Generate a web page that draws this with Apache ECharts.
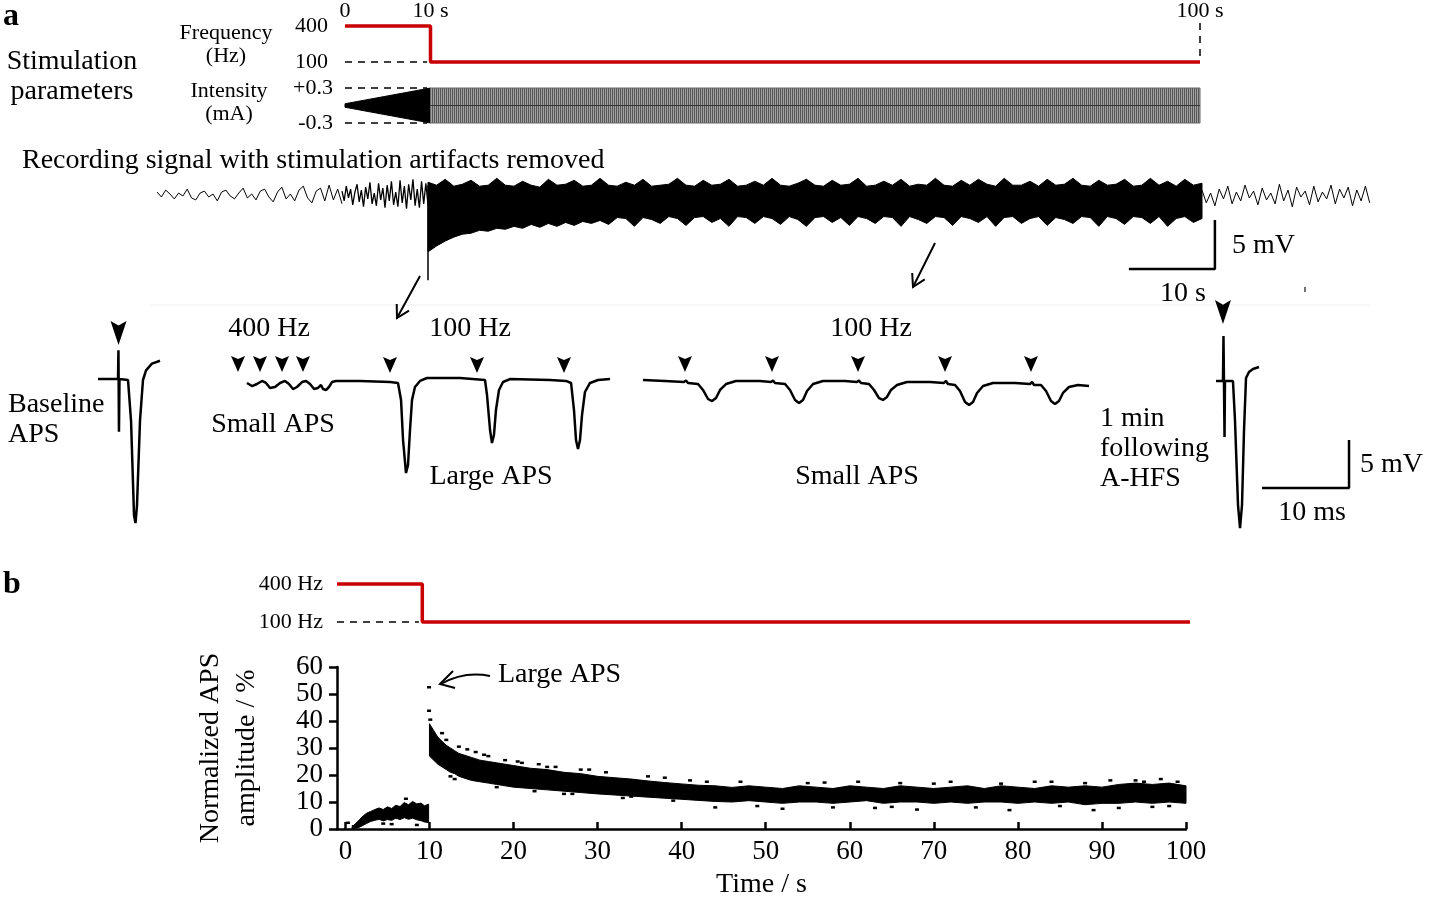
<!DOCTYPE html>
<html>
<head>
<meta charset="utf-8">
<script src="https://cdn.jsdelivr.net/npm/echarts@6/dist/echarts.min.js"></script>
<style>
  html, body { margin: 0; padding: 0; background: #fff; }
  #chart { width: 1429px; height: 900px; }
</style>
</head>
<body>
<div id="chart"></div>
<script>
// ---- stimulation parameters ----
const freqT = [0, 10, 10, 100];
const freqV = [400, 400, 100, 100];
const rampT = [0, 10];
const rampUp = [0.03, 0.3];
const rampLo = [-0.03, -0.3];
const holdT = [10, 100];
const holdUp = [0.3, 0.3];
const holdLo = [-0.3, -0.3];

// ---- recording (s, mV) ----
const recPreStart = -21.5, recPreStep = 0.5;
const recPreV = [0.3, -0.2, 0.5, 0.1, -0.4, 0.2, -0.1, 0.6, -0.3, -0.5,
  0.2, 0.4, -0.2, 0.1, -0.6, 0.3, 0.5, -0.1, -0.4, 0.2,
  0.7, -0.3, 0.1, -0.5, 0.4, 0.6, -0.2, -0.7, 0.3, 0.8,
  -0.4, 0.1, -0.6, 0.5, 0.9, -0.3, -0.8, 0.4, 0.7, -0.6,
  1.0, -0.5, 0.6, -0.9];
const recAStart = 0, recAStep = 0.25;
const recAV = [0.4, -0.6, 0.9, -0.3, 0.6, -1.0, 0.3, 1.1, -0.7, 0.5,
  -1.2, 0.8, -0.4, 1.3, -0.9, 0.2, -1.1, 1.2, -0.5, 0.7,
  -1.3, 1.0, -0.6, 1.4, -1.0, 0.3, -1.2, 1.5, -0.8, 0.9,
  -1.4, 1.1, -0.5, 1.6, -1.1, 0.6, -1.3, 1.4, -0.9, 1.2,
  -1.0];
const recBStart = 10, recBStep = 1;
const recBUp = [1.3, 1.0, 1.6, 0.9, 1.1, 1.5, 0.9, 1.0, 1.7, 1.0,
  0.9, 1.4, 1.0, 0.8, 1.6, 1.0, 1.1, 1.5, 0.9, 1.0,
  1.7, 1.0, 0.9, 1.3, 1.0, 1.6, 0.9, 1.0, 1.1, 1.7,
  1.0, 0.9, 1.5, 1.0, 1.1, 1.6, 0.9, 1.0, 1.4, 1.0,
  1.7, 1.0, 0.9, 1.2, 1.6, 1.0, 0.9, 1.5, 1.0, 1.1,
  1.7, 0.9, 1.0, 1.4, 1.0, 1.6, 0.9, 1.1, 1.0, 1.7,
  1.0, 0.9, 1.5, 1.0, 1.6, 1.1, 0.9, 1.7, 1.0, 1.0,
  1.4, 0.9, 1.6, 1.0, 1.1, 1.7, 1.0, 0.9, 1.5, 1.0,
  1.1, 1.6, 0.9, 1.0, 1.7, 1.0, 1.4, 0.9, 1.6, 1.0,
  1.2];
const recBLo = [-5.8, -5.2, -4.7, -4.3, -4.0, -3.9, -3.6, -3.7, -3.4, -3.5,
  -3.2, -3.4, -3.0, -3.3, -2.9, -3.2, -2.8, -3.1, -2.7, -2.9,
  -2.6, -3.0, -2.3, -2.4, -3.2, -2.3, -2.5, -2.9, -2.2, -2.4,
  -3.1, -2.3, -2.2, -2.8, -2.4, -3.2, -2.2, -2.3, -2.9, -2.2,
  -2.4, -3.0, -2.2, -2.5, -3.2, -2.3, -2.2, -2.8, -2.3, -3.1,
  -2.2, -2.4, -2.9, -2.2, -2.3, -3.2, -2.2, -2.5, -2.9, -2.2,
  -2.3, -3.1, -2.2, -2.4, -2.8, -2.2, -3.2, -2.3, -2.2, -2.9,
  -2.4, -2.2, -3.1, -2.3, -2.5, -2.9, -2.2, -2.3, -3.2, -2.2,
  -2.4, -3.0, -2.2, -2.3, -2.9, -2.2, -3.2, -2.4, -2.2, -2.8,
  -2.4];
const recSpikeT = [10, 10];
const recSpikeV = [1.0, -8.7];
const recPostStart = 100, recPostStep = 0.5;
const recPostV = [0.5, -0.8, 0.2, -1.1, 0.6, -0.4, 0.9, -0.9, 0.3, -0.6,
  1.0, -0.3, 0.4, -1.0, 0.7, -0.5, 0.2, -0.9, 1.1, -0.6,
  0.5, -1.2, 0.8, -0.2, 0.4, -1.0, 0.9, -0.7, 0.3, -0.4,
  1.0, -0.9, 0.6, -0.3, 0.8, -1.1, 0.5, -0.6, 0.9, -0.8];
const recBarT = [91.5, 101.5, 101.5];
const recBarV = [-7.55, -7.55, -2.55];

// ---- expanded traces (ms, mV) ----
const trAT = [0, 2.3, 2.35, 2.41, 2.47, 3.45, 3.8, 4.14, 4.31, 4.48, 4.83, 5.17, 5.52, 6.2, 7.13];
const trAV = [0.1, 0.1, 3.1, -5.4, 0.1, 0, -4.3, -14.1, -14.9, -13.1, -4.2, 0, 1.0, 1.7, 2.0];
const trBT = [1.95, 2.53, 3.10, 3.68, 4.14, 4.60, 5.17, 5.75, 6.32, 6.78,
  7.24, 7.70, 8.28, 8.74, 9.20, 9.66, 10.11, 10.46, 10.69, 11.03,
  11.38, 11.72, 12.18, 14.94, 18.39, 19.31, 19.66, 19.89, 20.23, 20.46,
  20.69, 20.92, 21.26, 21.84, 22.64, 26.44, 29.31, 29.54, 29.89, 30.11,
  30.34, 30.57, 30.92, 31.38, 32.18, 36.78, 38.62, 39.20, 39.54, 39.77,
  40.00, 40.23, 40.46, 40.80, 41.38, 42.30, 43.68];
const trBV = [-0.31, -0.63, -0.42, -0.10, -0.31, -0.83, -0.73, -0.31, -0.10, -0.42,
  -0.94, -0.73, -0.21, -0.10, -0.42, -0.94, -0.83, -0.52, -0.94, -1.04,
  -0.73, -0.21, -0.10, -0.10, -0.21, -0.31, -2.08, -6.25, -9.69, -8.85,
  -5.21, -2.08, -0.73, -0.10, 0.21, 0.21, 0, -1.56, -5.21, -6.56,
  -5.73, -3.13, -1.04, -0.21, 0.10, 0, -0.10, -0.31, -3.13, -6.25,
  -7.19, -6.25, -3.65, -1.25, -0.31, 0, 0.10];
const trCT = [0.34, 2.87, 5.06, 5.29, 5.52, 6.67, 7.24, 7.82, 8.28, 8.74, 9.20, 9.89, 11.03,
  13.79, 15.06, 15.29, 15.52, 16.67, 17.24, 17.82, 18.28, 18.74, 19.20, 19.89, 21.03,
  23.56, 24.94, 25.17, 25.40, 26.32, 26.90, 27.47, 27.93, 28.39, 28.85, 29.54, 30.69,
  33.33, 34.94, 35.17, 35.40, 36.21, 36.78, 37.36, 37.82, 38.28, 38.74, 39.43, 40.57,
  43.10, 44.83, 45.06, 45.29, 46.09, 46.67, 47.24, 47.70, 48.16, 48.62, 49.31, 50.34, 51.61];
const trCV = [0, -0.10, -0.21, -0.05, -0.31, -0.42, -1.04, -1.98, -2.19, -1.88, -1.04, -0.42, -0.10,
  -0.10, -0.21, -0.05, -0.31, -0.42, -1.04, -2.08, -2.40, -2.08, -1.15, -0.42, -0.10,
  -0.10, -0.21, -0.05, -0.31, -0.42, -1.04, -1.88, -2.08, -1.77, -1.04, -0.52, -0.21,
  -0.21, -0.31, -0.10, -0.42, -0.52, -1.15, -2.29, -2.60, -2.29, -1.35, -0.63, -0.31,
  -0.31, -0.42, -0.20, -0.52, -0.52, -1.15, -2.19, -2.50, -2.19, -1.35, -0.73, -0.52, -0.63];
const trDT = [0.69, 1.49, 1.55, 1.67, 1.72, 2.64, 2.87, 3.22, 3.45, 3.68, 3.91, 4.14, 4.48, 4.94, 5.63];
const trDV = [-0.1, -0.1, 4.58, -5.94, -0.1, -0.1, -4.17, -13.02, -15.42, -13.02, -5.21, 0.21, 0.83, 1.15, 1.35];
const trBarT = [5.98, 15.98, 15.98];
const trBarV = [-11.25, -11.25, -6.25];
// stimulus markers
const mkAT = [2.36], mkAV = [4.9];
const mkBT = [0.92, 3.45, 5.98, 8.39, 18.39, 28.39, 38.39];
const mkBV = [1.67, 1.67, 1.67, 1.67, 1.56, 1.56, 1.56];
const mkCT = [5.17, 15.17, 25.06, 35.06, 44.94];
const mkCV = [1.67, 1.67, 1.67, 1.67, 1.67];
const mkDT = [1.49], mkDV = [7.08];

// ---- panel b ----
const freqBT = [0, 10, 10, 100];
const freqBV = [400, 400, 100, 100];
const apsT1 = [0.8, 1.2, 1.6, 2, 2.5, 3, 3.5, 4, 4.5, 5, 5.5, 6, 6.5, 7, 7.5, 8, 8.5, 9, 9.4, 9.9];
const apsUp1 = [0.8, 2.0, 3.2, 4.5, 5.8, 6.5, 7.2, 7.8, 7.2, 8.2, 7.6, 8.8, 8.3, 9.8, 9.0, 10.2, 9.3, 9.6, 8.6, 9.2];
const apsLo1 = [0.0, 0.2, 0.6, 1.2, 2.0, 2.8, 3.2, 3.6, 3.0, 3.5, 3.2, 4.0, 3.5, 4.2, 3.6, 4.0, 3.4, 3.1, 2.6, 2.4];
const apsT2 = [10.0, 10.5, 11, 11.5, 12, 12.5, 13, 13.5, 14, 15, 16, 17, 18, 19, 20, 22, 24, 26, 28, 30, 32, 34, 36, 38, 40,
  42, 44, 46, 48, 50, 52, 54, 56, 58, 60, 62, 64, 66, 68, 70, 72, 74, 76, 78, 80, 82, 84, 86, 88, 90, 92, 94, 96, 98, 100];
const apsUp2 = [39, 36.5, 34, 32.5, 31, 30, 29, 28, 27.5, 26.5, 25.5, 25, 24.5, 24, 23.5, 22.5, 22, 21, 20.5, 19.5, 19, 18.5, 17.8, 17.2, 16.7,
  16.2, 16, 15.4, 16, 15.5, 15, 16, 15.5, 15, 16, 15.5, 15, 16, 15.5, 15, 15.5, 16, 15, 16, 15.5, 15, 16, 15.5, 16, 15.5, 16.5, 17, 16.5, 17, 16];
const apsLo2 = [27, 25.5, 24, 23, 22, 21, 20.5, 19.5, 19, 18, 17.5, 17, 16.5, 16, 15.5, 15, 14.5, 14, 13.5, 13, 12.6, 12.2, 11.8, 11.4, 11,
  10.6, 10.2, 10, 10.5, 10, 9.5, 10, 10, 9.5, 10, 10.5, 9.5, 10, 10, 9.5, 10, 9.5, 10, 10, 9.5, 10, 9.5, 10, 9, 9.5, 9.5, 10, 9.5, 10, 9.5];
const apsOutT = [0.3, 1.0, 3.0, 4.5, 5.5, 7.2, 8.5, 9.95, 9.95, 10.1, 12.5, 13, 14.5, 15.5, 17, 18, 20.5, 23, 25, 27, 29, 33, 36,
  41, 44, 47, 52, 55, 58, 61, 63, 66, 68, 72, 75, 78, 79, 82, 85, 88, 89, 92, 94, 95, 97, 98,
  11.5, 12, 13.5, 16.5, 19, 21, 22.5, 24, 26, 28, 31, 34, 38, 39, 43, 49, 57, 65, 70, 84, 91, 96, 99];
const apsOutV = [2.3, 1.0, 5.5, 2.0, 1.8, 11.2, 1.5, 52.5, 43.8, 40.5, 19.5, 18.5, 29.5, 28.5, 27, 15.5, 25, 24, 23, 13, 22, 11.5, 19.5,
  18, 8, 17.5, 7.5, 17, 8, 17.5, 7.8, 17, 7.2, 17.5, 8, 16.8, 7, 17.5, 8.5, 17, 7, 7.8, 18, 17.5, 18.5, 8.5,
  35.5, 33, 30.5, 27.5, 25.5, 24.5, 14, 23, 13, 22, 21, 12, 19, 10.5, 17.5, 8.5, 17.2, 8.2, 16.8, 17.5, 18, 8.2, 17.5];

const FONT = 'Liberation Serif';
const RED = '#c80000';
const zip = (a, b) => a.map((v, i) => [v, b[i]]);
const seq = (start, step, vals) => vals.map((v, i) => [+(start + i * step).toFixed(2), v]);
const steps = (start, step, vals) => vals.map((v, i) => +(start + i * step).toFixed(2));

function stripes() {
  const c = document.createElement('canvas');
  c.width = 2; c.height = 2;
  const g = c.getContext('2d');
  g.fillStyle = '#565656'; g.fillRect(0, 0, 1, 2);
  g.fillStyle = '#a2a2a2'; g.fillRect(1, 0, 1, 2);
  return c;
}

function line(xi, data, style) {
  return Object.assign({
    type: 'line', xAxisIndex: xi, yAxisIndex: xi, data: data,
    symbol: 'none', clip: false, silent: true,
    lineStyle: { color: '#000', width: 1 }
  }, style || {});
}

// filled band between a lower and an upper edge, drawn as one polygon
function band(xi, ts, up, lo, fill, stroke) {
  return {
    type: 'custom', coordinateSystem: 'cartesian2d', xAxisIndex: xi, yAxisIndex: xi,
    clip: false, silent: true,
    data: ts.map((t, i) => [t, up[i], lo[i]]),
    encode: { x: 0, y: [1, 2] },
    renderItem: (params, api) => {
      if (params.dataIndex !== 0) return null;
      const top = ts.map((t, i) => api.coord([t, up[i]]));
      const bot = ts.map((t, i) => api.coord([t, lo[i]])).reverse();
      return {
        type: 'polygon', shape: { points: top.concat(bot) },
        style: { fill: fill, stroke: stroke, lineWidth: 1 }
      };
    }
  };
}

function marks(xi, ts, vs, size) {
  return {
    type: 'scatter', xAxisIndex: xi, yAxisIndex: xi, data: zip(ts, vs), silent: true,
    symbol: 'path://M0,0 L10,5 L20,0 L10,26 Z', symbolSize: size,
    itemStyle: { color: '#000', opacity: 1 }
  };
}

const hidden = { show: false };
function hx(min, max) { return { type: 'value', min: min, max: max, show: false, splitLine: hidden }; }

const dash = { color: '#000', width: 1.5, type: [7, 6] };

const grid = [
  { left: 345, top: 26, width: 855, height: 36 },            // 0 frequency a
  { left: 345, top: 88, width: 855, height: 35 },            // 1 intensity a
  { left: 152.8, top: 170.5, width: 1221.2, height: 122.5 }, // 2 recording
  { left: 98, top: 298.4, width: 70, height: 240 },          // 3 baseline APS
  { left: 230, top: 298.4, width: 390, height: 240 },        // 4 400/100 Hz
  { left: 640, top: 298.4, width: 460, height: 240 },        // 5 100 Hz later
  { left: 1210, top: 298.4, width: 145, height: 240 },       // 6 after
  { left: 337, top: 584, width: 853, height: 38 },           // 7 frequency b
  { left: 337, top: 667, width: 849, height: 164 }           // 8 APS amplitude
];

const xAxis = [
  {
    type: 'value', gridIndex: 0, min: 0, max: 100, position: 'top',
    axisLine: hidden, axisTick: hidden, splitLine: hidden,
    axisLabel: {
      customValues: [0, 10, 100], margin: 4, fontSize: 22, fontFamily: FONT, color: '#000',
      showMinLabel: true, showMaxLabel: true, hideOverlap: false,
      formatter: v => v === 0 ? '0' : v + ' s'
    }
  },
  Object.assign(hx(0, 100), { gridIndex: 1 }),
  Object.assign(hx(-22, 120), { gridIndex: 2 }),
  Object.assign(hx(0, 70 / 8.7), { gridIndex: 3 }),
  Object.assign(hx(0, 390 / 8.7), { gridIndex: 4 }),
  Object.assign(hx(0, 460 / 8.7), { gridIndex: 5 }),
  Object.assign(hx(0, 145 / 8.7), { gridIndex: 6 }),
  Object.assign(hx(0, 100), { gridIndex: 7 }),
  {
    type: 'value', gridIndex: 8, min: -1, max: 100,
    axisLine: { onZero: false, lineStyle: { color: '#000', width: 2.5 } },
    axisTick: { inside: true, length: 7, customValues: [0, 10, 20, 30, 40, 50, 60, 70, 80, 90, 100], lineStyle: { color: '#000', width: 2.5 } },
    axisLabel: { customValues: [0, 10, 20, 30, 40, 50, 60, 70, 80, 90, 100], margin: 9, fontSize: 27, fontFamily: FONT, color: '#000' },
    splitLine: hidden,
    name: 'Time / s', nameLocation: 'middle', nameGap: 42,
    nameTextStyle: { fontSize: 28, fontFamily: FONT, color: '#000' }
  }
];

function stimY(gi, min, max, vals, fmt, margin, size) {
  return {
    type: 'value', gridIndex: gi, min: min, max: max,
    axisLine: { show: false, onZero: false }, axisTick: hidden, splitLine: hidden,
    axisLabel: { customValues: vals, formatter: fmt, margin: margin, fontSize: size, fontFamily: FONT, color: '#000' }
  };
}

const yAxis = [
  stimY(0, 100, 400, [100, 400], v => String(v), 17, 22),
  stimY(1, -0.3, 0.3, [-0.3, 0.3], v => v > 0 ? '+0.3' : '-0.3', 12, 22),
  Object.assign(hx(-10, 2.5), { gridIndex: 2 }),
  Object.assign(hx(-16.5, 8.5), { gridIndex: 3 }),
  Object.assign(hx(-16.5, 8.5), { gridIndex: 4 }),
  Object.assign(hx(-16.5, 8.5), { gridIndex: 5 }),
  Object.assign(hx(-16.5, 8.5), { gridIndex: 6 }),
  stimY(7, 100, 400, [100, 400], v => v + ' Hz', 14, 22),
  {
    type: 'value', gridIndex: 8, min: 0, max: 60, interval: 10,
    axisLine: { show: true, onZero: false, lineStyle: { color: '#000', width: 2.5 } },
    axisTick: { show: true, length: 8, lineStyle: { color: '#000', width: 2.5 } },
    axisLabel: { margin: 14, fontSize: 27, fontFamily: FONT, color: '#000' },
    splitLine: hidden,
    name: 'Normalized APS\namplitude / %', nameLocation: 'middle', nameGap: 72,
    nameTextStyle: { fontSize: 28, fontFamily: FONT, color: '#000', lineHeight: 36 }
  }
];

const series = [
  // stimulation parameters
  line(0, [[0, 100], [9.6, 100]], { lineStyle: dash }),
  line(0, [[100, 425], [100, 130]], { lineStyle: dash }),
  line(0, zip(freqT, freqV), { lineStyle: { color: RED, width: 3.5 } }),
  line(1, [[0, 0.3], [9.6, 0.3]], { lineStyle: dash }),
  line(1, [[0, -0.3], [9.6, -0.3]], { lineStyle: dash }),
  band(1, rampT, rampUp, rampLo, '#000', '#000'),
  band(1, holdT, holdUp, holdLo, { image: stripes(), repeat: 'repeat' }, '#666'),
  line(1, [[10, 0], [100, 0]], { lineStyle: { color: '#333', width: 1 } }),

  // recording
  line(2, seq(recPreStart, recPreStep, recPreV), { lineStyle: { color: '#000', width: 1 } }),
  line(2, seq(recAStart, recAStep, recAV), { lineStyle: { color: '#000', width: 1.3 } }),
  band(2, steps(recBStart, recBStep, recBUp), recBUp, recBLo, '#000', '#000'),
  line(2, zip(recSpikeT, recSpikeV), { lineStyle: { color: '#000', width: 1.5 } }),
  line(2, seq(recPostStart, recPostStep, recPostV), { lineStyle: { color: '#000', width: 1 } }),
  line(2, zip(recBarT, recBarV), { lineStyle: { color: '#000', width: 2.5 } }),

  // expanded traces
  line(3, zip(trAT, trAV), { lineStyle: { color: '#000', width: 2.5 } }),
  line(4, zip(trBT, trBV), { lineStyle: { color: '#000', width: 2.5 } }),
  line(5, zip(trCT, trCV), { lineStyle: { color: '#000', width: 2.5 } }),
  line(6, zip(trDT, trDV), { lineStyle: { color: '#000', width: 2.5 } }),
  line(6, zip(trBarT, trBarV), { lineStyle: { color: '#000', width: 2.5 } }),
  marks(3, mkAT, mkAV, [16, 24]),
  marks(4, mkBT, mkBV, [14, 16]),
  marks(5, mkCT, mkCV, [14, 16]),
  marks(6, mkDT, mkDV, [16, 24]),

  // panel b
  line(7, [[0, 100], [9.6, 100]], { lineStyle: dash }),
  line(7, zip(freqBT, freqBV), { lineStyle: { color: RED, width: 3.5 } }),
  band(8, apsT1, apsUp1, apsLo1, '#000', '#000'),
  band(8, apsT2, apsUp2, apsLo2, '#000', '#000'),
  {
    type: 'scatter', xAxisIndex: 8, yAxisIndex: 8, data: zip(apsOutT, apsOutV), silent: true,
    symbol: 'rect', symbolSize: [4, 2.5], itemStyle: { color: '#000', opacity: 1 }
  }
];

function txt(text, x, y, size, align, extra) {
  return {
    type: 'text', x: x, y: y, silent: true,
    style: Object.assign({
      text: text, fontSize: size, fontFamily: FONT, fill: '#000',
      align: align || 'left', textAlign: align || 'left',
      verticalAlign: 'middle', textVerticalAlign: 'middle'
    }, extra || {})
  };
}
function seg(x1, y1, x2, y2, w, color) {
  return { type: 'line', silent: true, shape: { x1, y1, x2, y2 }, style: { stroke: color || '#000', lineWidth: w || 2 } };
}
function vee(points) {
  return { type: 'polyline', silent: true, shape: { points: points }, style: { stroke: '#000', lineWidth: 2, fill: null } };
}

const graphic = [
  txt('a', 3, 17, 32, 'left', { fontWeight: 'bold' }),
  txt('b', 3, 585, 32, 'left', { fontWeight: 'bold' }),
  txt('Stimulation\nparameters', 72, 77, 28, 'center', { lineHeight: 30 }),
  txt('Frequency\n(Hz)', 226, 45, 22, 'center', { lineHeight: 23 }),
  txt('Intensity\n(mA)', 229, 103, 22, 'center', { lineHeight: 23 }),
  txt('Recording signal with stimulation artifacts removed', 22, 161, 28),
  txt('5 mV', 1232, 246, 28),
  txt('10 s', 1183, 294, 28, 'center'),
  seg(150, 305, 1370, 305, 1, '#eeeeee'),
  seg(1305, 287, 1305, 292, 1.5, '#444'),
  seg(420, 276, 397, 318, 2), vee([[409, 310.7], [397, 318], [396.7, 304]]),
  seg(935, 243, 913, 287, 2), vee([[924.7, 279.3], [913, 287], [912.2, 273]]),
  txt('400 Hz', 269, 329, 28, 'center'),
  txt('100 Hz', 470, 329, 28, 'center'),
  txt('100 Hz', 871, 329, 28, 'center'),
  txt('Baseline\nAPS', 8, 420, 28, 'left', { lineHeight: 30 }),
  txt('Small APS', 273, 425, 28, 'center'),
  txt('Large APS', 491, 477, 28, 'center'),
  txt('Small APS', 857, 477, 28, 'center'),
  txt('1 min\nfollowing\nA-HFS', 1100, 449, 28, 'left', { lineHeight: 30 }),
  txt('5 mV', 1360, 465, 28),
  txt('10 ms', 1312, 513, 28, 'center'),
  txt('Large APS', 498, 675, 28),
  { type: 'bezierCurve', silent: true,
    shape: { x1: 490, y1: 676, cpx1: 470, cpy1: 672, cpx2: 455, cpy2: 676, x2: 441, y2: 684 },
    style: { stroke: '#000', lineWidth: 2, fill: null } },
  vee([[453, 671], [440, 684], [455, 688]])
];

const chart = echarts.init(document.getElementById('chart'), null, { renderer: 'canvas' });
chart.setOption({
  animation: false,
  backgroundColor: '#fff',
  textStyle: { fontFamily: FONT },
  grid: grid,
  xAxis: xAxis,
  yAxis: yAxis,
  series: series,
  graphic: graphic
});
</script>
</body>
</html>
